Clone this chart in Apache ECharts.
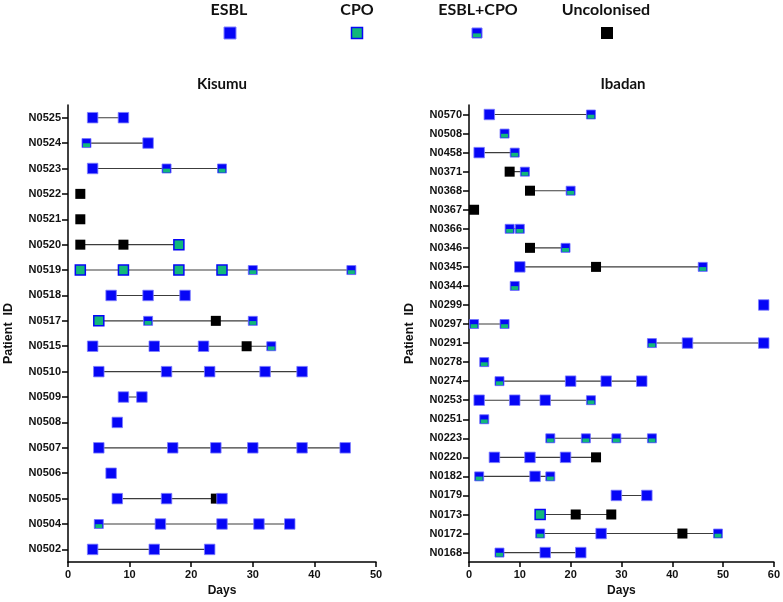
<!DOCTYPE html>
<html><head><meta charset="utf-8">
<script src="https://cdn.jsdelivr.net/npm/echarts@6/dist/echarts.min.js"></script>
<style>html,body{margin:0;padding:0;background:#fff}#c{width:783px;height:602px}</style>
</head><body><div id="c"></div>
<script>
// ---------- Data ----------
const kisumuIds = ['N0525','N0524','N0523','N0522','N0521','N0520','N0519','N0518','N0517','N0515','N0510','N0509','N0508','N0507','N0506','N0505','N0504','N0502'];
const kisumuESBL = [['N0525',4],['N0525',9],['N0524',13],['N0523',4],['N0518',7],['N0518',13],['N0518',19],
  ['N0515',4],['N0515',14],['N0515',22],['N0510',5],['N0510',16],['N0510',23],['N0510',32],['N0510',38],
  ['N0509',9],['N0509',12],['N0508',8],['N0507',5],['N0507',17],['N0507',24],['N0507',30],['N0507',38],['N0507',45],
  ['N0506',7],['N0505',8],['N0505',16],['N0505',25],['N0504',15],['N0504',25],['N0504',31],['N0504',36],
  ['N0502',4],['N0502',14],['N0502',23]];
const kisumuCPO = [['N0520',18],['N0519',2],['N0519',9],['N0519',18],['N0519',25],['N0517',5]];
const kisumuCombo = [['N0524',3],['N0523',16],['N0523',25],['N0519',30],['N0519',46],['N0517',13],['N0517',30],['N0515',33],['N0504',5]];
const kisumuUncol = [['N0522',2],['N0521',2],['N0520',2],['N0520',9],['N0517',24],['N0515',29],['N0505',24]];

const ibadanIds = ['N0570','N0508','N0458','N0371','N0368','N0367','N0366','N0346','N0345','N0344','N0299','N0297','N0291','N0278','N0274','N0253','N0251','N0223','N0220','N0182','N0179','N0173','N0172','N0168'];
const ibadanESBL = [['N0570',4],['N0458',2],['N0345',10],['N0299',58],['N0291',43],['N0291',58],
  ['N0274',20],['N0274',27],['N0274',34],['N0253',2],['N0253',9],['N0253',15],['N0220',5],['N0220',12],['N0220',19],
  ['N0182',13],['N0179',29],['N0179',35],['N0172',26],['N0168',15],['N0168',22]];
const ibadanCPO = [['N0173',14]];
const ibadanCombo = [['N0570',24],['N0508',7],['N0458',9],['N0371',11],['N0368',20],['N0366',8],['N0366',10],['N0346',19],
  ['N0345',46],['N0344',9],['N0297',1],['N0297',7],['N0291',36],['N0278',3],['N0274',6],['N0253',24],['N0251',3],
  ['N0223',16],['N0223',23],['N0223',29],['N0223',36],['N0182',2],['N0182',16],['N0172',14],['N0172',49],['N0168',6]];
const ibadanUncol = [['N0371',8],['N0368',12],['N0367',1],['N0346',12],['N0345',25],['N0220',25],['N0173',21],['N0173',28],['N0172',42]];

const xTicksKisumu = {min:0, max:50, interval:10};
const xTicksIbadan = {min:0, max:60, interval:10};

// ---------- Styles ----------
const BLUE = '#0606f6';
const GREEN = '#12b87a';
const FONT = '"Liberation Sans", Arial, sans-serif';

function panelSeries(idx, ids, esbl, cpo, combo, unc) {
  const all = esbl.concat(cpo, combo, unc);
  const series = [];
  ids.forEach(id => {
    const days = all.filter(d => d[0] === id).map(d => d[1]).sort((a, b) => a - b);
    if (days.length > 1) {
      series.push({type:'line', xAxisIndex:idx, yAxisIndex:idx, data: days.map(d => [d, id]),
        symbol:'none', silent:true, z:1, lineStyle:{color:'#3c3c3c', width:1.1}});
    }
  });
  const xy = arr => arr.map(d => [d[1], d[0]]);
  const base = {type:'scatter', xAxisIndex:idx, yAxisIndex:idx, symbol:'rect', silent:true, clip:false};
  series.push(Object.assign({}, base, {name:'Uncolonised', data: xy(unc), symbolSize:10, z:2,
    itemStyle:{color:'#000', opacity:1}}));
  series.push(Object.assign({}, base, {name:'CPO', data: xy(cpo), symbolSize:10, z:3,
    itemStyle:{color:GREEN, borderColor:BLUE, borderWidth:1.5, opacity:1}}));
  series.push(Object.assign({}, base, {name:'ESBL', data: xy(esbl), symbolSize:10.5, z:4,
    itemStyle:{color:BLUE, borderColor:'#7f7fff', borderWidth:0.8, opacity:1}}));
  series.push(Object.assign({}, base, {name:'ESBL+CPO', data: xy(combo), symbolSize:9, z:5,
    itemStyle:{color:BLUE, borderColor:'#7070ff', borderWidth:0.8, opacity:1}}));
  series.push(Object.assign({}, base, {name:'ESBL+CPO (CPO)', data: xy(combo), symbolSize:[7,3.8], symbolOffset:[0,2.1], z:6,
    itemStyle:{color:GREEN, opacity:1}}));
  return series;
}

function xAxis(idx, ticks) {
  return Object.assign({type:'value', gridIndex:idx, name:'Days', nameLocation:'middle', nameGap:22,
    nameTextStyle:{fontFamily:FONT, fontWeight:'bold', fontSize:12, color:'#111'},
    axisLine:{show:true, lineStyle:{color:'#000', width:1.5}},
    axisTick:{show:true, length:5, lineStyle:{color:'#000', width:1.5}},
    axisLabel:{fontFamily:FONT, fontWeight:'bold', fontSize:11, color:'#111', margin:7},
    splitLine:{show:false}}, ticks);
}
function yAxis(idx, ids) {
  return {type:'category', gridIndex:idx, data: ids, inverse:true, boundaryGap:true,
    name:'Patient  ID', nameLocation:'middle', nameGap:53,
    nameTextStyle:{fontFamily:FONT, fontWeight:'bold', fontSize:12.5, color:'#111'},
    axisLine:{show:true, lineStyle:{color:'#000', width:1.5}},
    axisTick:{show:true, length:6, alignWithLabel:true, lineStyle:{color:'#000', width:1.5}},
    axisLabel:{fontFamily:FONT, fontWeight:'bold', fontSize:11, color:'#111', margin:7, interval:0},
    splitLine:{show:false}};
}

const LFONT = 'bold 16px Lato, "Open Sans", sans-serif';
const TFONT = 'bold 15px Lato, "Open Sans", sans-serif';
const txt = (t, x, y, font) => ({type:'text', x, y, style:{text:t, font, fill:'#111', textAlign:'center', textVerticalAlign:'middle'}});

const option = {
  animation:false,
  backgroundColor:'#fff',
  grid:[{left:68, top:105, width:308, height:461}, {left:469, top:105, width:308, height:461}],
  xAxis:[xAxis(0, xTicksKisumu), xAxis(1, xTicksIbadan)],
  yAxis:[yAxis(0, kisumuIds), yAxis(1, ibadanIds)],
  series: panelSeries(0, kisumuIds, kisumuESBL, kisumuCPO, kisumuCombo, kisumuUncol)
    .concat(panelSeries(1, ibadanIds, ibadanESBL, ibadanCPO, ibadanCombo, ibadanUncol)),
  graphic:[
    txt('ESBL', 229, 10, LFONT), txt('CPO', 357, 10, LFONT), txt('ESBL+CPO', 478, 10, LFONT), txt('Uncolonised', 606, 10, LFONT),
    {type:'rect', shape:{x:224, y:27, width:12, height:12}, style:{fill:BLUE, stroke:'#8080ff', lineWidth:1}},
    {type:'rect', shape:{x:351.5, y:27.5, width:11, height:11}, style:{fill:GREEN, stroke:BLUE, lineWidth:1.5}},
    {type:'rect', shape:{x:472, y:28, width:10, height:10}, style:{fill:BLUE, stroke:'#7070ff', lineWidth:1}},
    {type:'rect', shape:{x:473, y:33.4, width:8, height:3.8}, style:{fill:GREEN}},
    {type:'rect', shape:{x:601, y:27, width:12, height:12}, style:{fill:'#000'}},
    txt('Kisumu', 222, 84, TFONT), txt('Ibadan', 623, 84, TFONT)
  ]
};
const chart = echarts.init(document.getElementById('c'), null, {renderer:'canvas'});
chart.setOption(option);
</script></body></html>
